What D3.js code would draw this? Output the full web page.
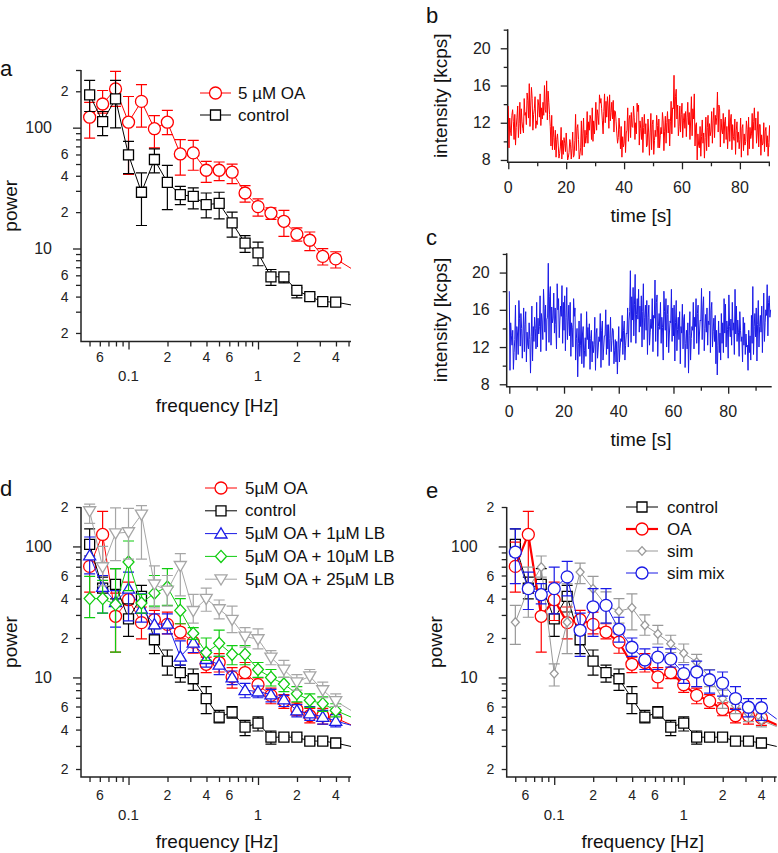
<!DOCTYPE html>
<html><head><meta charset="utf-8">
<script src="https://cdn.jsdelivr.net/npm/d3@7"></script>
<style>
body{margin:0;background:#fff}
svg{display:block;font-family:"Liberation Sans",Arial,Helvetica,sans-serif}
</style></head>
<body><svg id="fig" width="778" height="853"></svg>
<script>
// ---------------- DATA ----------------
// frequencies of the power spectra (Hz); last one lies beyond the axis (line runs to the edge)
const freqHz = [0.0501,0.0631,0.0794,0.1,0.1259,0.1585,0.1995,0.2512,0.3162,0.3981,0.5012,0.631,0.7943,1,1.2589,1.5849,1.9953,2.5119,3.1623,3.9811,6.3096];

// panel a
const aOA     = [122,157,209,111,165,98,111,60.6,61.8,44.4,44.4,42.8,28.8,22.2,19.6,16.8,13.1,11.7,8.6,8.2,6.05];
const aOALo   = [82,132,150,41,101,68,87.5,40.4,44.4,35.3,36.5,34.4,24.2,18.5,17.4,12.6,11.5,9.6,7.3,6.9];
const aOAHi   = [162,203,292,181,227,126,139,79.6,78.5,52.7,52,50,33.2,25.7,21.7,20.7,14.8,13.7,9.96,9.4];
const aCtrl   = [187,112,173,59.5,29.2,54.5,35.3,27.9,27,23.1,23.6,16.3,11.1,9.2,5.83,5.83,4.5,4.0,3.63,3.6,3.29];
const aCtrlLo = [136,86,99.4,41.7,15.5,42.3,21,23.1,21.3,17.9,17.6,12.4,9.3,7.2,4.95,5.2,3.9,3.7,3.45,3.45];
const aCtrlHi = [246,136,246,77,42.3,66.7,48.8,32.7,31.8,28.8,29.2,20,12.8,11.3,6.7,6.1,4.73,4.2,3.8,3.75];

// panels d and e (shared OA and control)
const oa      = [70.4,123.5,29.3,39.2,26.2,27.6,25.4,22.2,18.6,12.6,13,10.1,10.9,8.8,7.3,6.6,5.7,5.1,5.1,4.9,4.0];
const oaLo    = [44.8,44.8,15.6,27.2,19.7,24.2,21.5,19.7,15.3,10.9,11,8.3,9.8,7.7,6.3,5.8,5.1,4.5,4.4,4.3];
const oaHi    = [108,185,44,53.4,34.5,32.5,31.5,25.7,21.5,14.3,15.2,11.9,13,9.9,8.3,7.4,6.4,5.8,5.8,5.6];
const ctrl    = [103.6,48,51.3,28,41.5,19.4,13.3,10.9,9.77,6.9,4.98,5.43,4.18,4.48,3.5,3.5,3.5,3.27,3.27,3.16,2.85];
const ctrlLo  = [84.5,39.8,39.8,20.6,31.6,15.2,10.4,9.2,7.96,5.3,4.5,4.9,3.6,3.9,3.1,3.35,3.35,3.1,3.05,3.1];
const ctrlHi  = [136,58.3,67.6,36.5,50.4,23.6,16.2,12.4,11.6,8.5,5.6,6.0,4.7,5.0,3.9,3.6,3.6,3.45,3.45,3.25];
const lb1     = [85.3,49,37.6,47.6,33.4,25.4,25.7,14.4,18.4,13.8,12.5,10,8,7.8,7.4,6.8,5.6,5.3,5.0,4.65,4.1];
const lb1Lo   = [61.7,31,24.2,27,26.4,21.5,21.5,12.4,15.5,12,10.5,8.8,7,7,6.5,6,5,4.7,4.4,4.2];
const lb1Hi   = [118,60,46,63.6,43.5,30.6,30.6,19,21.5,16,14.5,11.2,9,8.6,8.1,7.3,6.2,6,5.6,5.2];
const lb10    = [40,40,36,76,37,44,49,32.5,21.7,15.5,18.2,15,15,11.5,10,8.9,7.5,6.7,6.3,5.6,4.6];
const lb10Lo  = [28.6,31,15.6,46,31,35,35.5,25.7,19.5,13.5,14.5,12.5,12.5,10,8.6,7.8,6.5,5.9,5.5,5];
const lb10Hi  = [59,55,67.6,110,43,60,67.6,40,24,20,23,17.5,17.5,13,11.5,10,8.5,7.5,7.1,6.3];
const lb25    = [186,69.5,126,128.5,175,51.3,46,71,32.2,39.8,33.2,27.6,20.5,19.6,14.2,11.5,9.2,10.2,8.0,6.6,5.0];
const lb25Lo  = [150,50,78,80,80,34,35,42,26,32,28,22,17,16.5,12.5,10,8,9,7,6];
const lb25Hi  = [210,100,197,195,205,71,60,88,43,48,39,35,24,23.5,16,13.5,10.5,11.5,9.2,7.5];
const sim     = [26.4,47.6,69.5,10.7,26.4,63.7,47.5,35.5,32,34,25,21.5,18.1,15.3,13.1,10,6.9,6.1,5.3,4.7,3.9];
const simLo   = [17.9,28.8,58.3,8.6,15.2,52,34,26,26,23.1,21,18,15.5,13,11,8.5,5.8,5.3,4.6,4.2];
const simHi   = [35.5,69.5,84.5,12.7,51.9,74.6,59,45,40,43.5,30,25,21,18,15,11.5,8,7,6,5.3];
const simMix  = [90.6,47.6,42.8,47.6,58.6,22.9,34.6,35.5,23.3,17,13.6,14.3,13.8,10.7,11,9.6,9.05,6.9,5.92,5.87,4.2];
const simMixLo= [52,33,36.5,30.6,42,14.5,20.6,26,18.6,14.5,11.5,11.5,12,9,8.5,7.6,7.2,5.7,5,4.7];
const simMixHi= [136,63.6,52,69.5,77,31,47.6,47.6,28.8,20,16.5,17,16.5,12.5,13.3,11.4,11,8.5,6.9,6.9];

// intensity traces (kcps), sampled every 0.25 s
const traceStep = 0.25;
const traceOA = [
13.8,9.3,12.5,11.2, 10.6,12.8,13.4,12.1, 10.2,12.9,9.6,11.5, 12.6,13.8,10.4,11.9, 14.2,10.8,13.5,12.1,
11.4,10.9,14.6,12.8, 13.1,11.8,15.2,14.4, 12.5,16.2,11.6,13.9, 15.8,14.6,11.2,12.9, 13.5,14.8,11.4,12.2,
11.8,14.5,13.9,12.6, 15.1,11.7,13.6,12.4, 14.2,12.8,16.0,13.4, 13.1,16.5,12.3,15.4, 14.2,12.9,11.6,9.5,
12.8,9.1,11.6,10.4, 9.1,11.2,8.3,10.2, 10.8,9.6,8.2,8.7, 9.4,11.5,8.1,10.1, 8.6,10.4,9.8,8.9,
10.9,9.5,8.0,8.3, 8.8,10.2,9.7,8.1, 9.2,11.0,8.3,8.5, 10.1,12.9,9.0,11.4, 11.8,10.2,8.1,8.6,
9.3,12.2,8.5,10.8, 12.5,9.4,11.2,9.8, 10.6,13.2,9.8,12.1, 11.2,12.8,12.4,10.2, 13.6,10.0,12.2,10.8,
12.1,14.2,11.2,13.4, 12.8,11.8,15.0,14.1, 14.6,13.5,12.2,10.8, 13.2,15.1,12.0,14.3, 12.6,14.8,13.8,11.4,
15.0,12.2,13.1,14.2, 12.4,14.4,11.0,13.3, 13.2,12.1,10.8,9.8, 10.4,12.5,11.3,9.2, 11.6,8.3,10.5,9.4,
9.8,12.2,8.8,10.9, 11.2,13.6,10.0,12.4, 12.8,10.4,13.1,11.6, 11.5,13.8,12.6,10.2, 12.0,10.8,14.1,13.2,
13.9,9.6,12.2,11.4, 10.2,12.6,8.8,11.5, 12.9,10.8,11.9,9.4, 9.6,12.4,10.9,8.5, 10.9,13.0,9.1,11.8,
12.3,8.6,10.1,11.2, 10.5,12.8,11.7,9.3, 12.4,9.3,10.6,11.5, 10.8,13.1,12.2,9.0, 11.1,12.7,9.8,12.0,
13.2,10.9,12.4,9.5, 12.1,14.3,10.8,13.6, 13.5,17.1,11.5,14.8, 15.6,12.4,13.9,10.6, 11.6,13.8,11.0,12.9,
14.1,10.4,12.2,13.0, 11.4,13.2,10.5,12.6, 14.2,11.8,13.1,10.2, 12.3,14.8,10.6,13.5, 12.4,15.1,9.5,11.8,
12.0,8.0,10.8,9.6, 9.3,11.6,8.4,10.5, 12.3,9.8,10.9,8.2, 10.4,12.6,9.0,11.5, 12.8,9.4,11.9,10.6,
11.1,13.2,9.8,12.2, 13.6,10.4,12.8,11.8, 12.6,15.3,11.0,13.9, 13.5,9.4,12.4,11.2, 10.8,13.0,9.8,12.1,
12.6,10.2,11.6,9.2, 11.0,13.4,10.0,12.3, 12.9,9.1,11.8,10.5, 10.1,12.4,8.6,11.2, 12.1,9.9,11.0,9.2,
10.2,12.5,8.3,11.4, 11.8,9.0,10.8,9.6, 10.0,12.2,11.3,8.5, 12.6,9.2,11.5,10.3, 10.8,13.0,9.2,12.1,
13.6,11.2,12.5,9.8, 10.9,13.2,9.4,11.8, 11.8,8.5,10.7,9.6, 9.8,12.0,8.9,11.1, 11.5,9.4,10.6,8.4,
9.9,11.7,9.4,10.8, 9.8];
const traceCtrl = [
18.0,9.5,14.6,13.2, 12.2,13.8,9.6,11.4, 12.8,16.5,10.6,14.2, 13.4,11.2,17.0,15.1, 12.1,15.6,14.0,10.8,
13.5,16.2,11.5,14.4, 15.8,10.4,13.6,12.2, 11.8,14.6,12.8,9.2, 13.1,16.4,10.5,14.2, 12.6,15.2,14.0,11.8,
16.8,12.0,15.1,13.4, 14.2,17.5,11.5,15.6, 14.8,12.8,18.2,16.1, 13.6,16.5,11.6,15.0, 15.2,21.0,12.5,17.4,
18.5,12.2,16.3,14.6, 15.1,17.8,13.5,16.2, 14.4,11.8,18.8,16.0, 17.2,13.0,14.9,16.4, 15.3,18.6,12.4,16.8,
13.8,17.5,11.6,15.2, 18.4,12.8,14.7,16.5, 13.2,16.8,11.0,14.6, 14.1,12.0,17.2,15.3, 16.2,10.6,12.9,14.0,
8.8,12.4,14.8,11.0, 12.2,15.6,10.2,13.4, 14.2,9.8,11.6,13.0, 11.0,15.8,12.8,14.1, 11.8,14.5,9.6,12.9,
13.8,10.4,12.6,11.4, 12.3,15.2,9.5,13.4, 14.0,10.8,11.9,13.1, 12.6,15.6,9.8,13.8, 14.8,10.6,12.0,13.2,
13.2,16.0,11.2,14.4, 11.8,14.4,10.0,12.9, 15.2,11.5,12.7,14.0, 13.8,10.2,11.6,12.8, 10.4,12.6,9.1,11.8,
14.2,10.4,11.8,12.9, 12.6,15.4,11.2,13.8, 14.8,10.6,12.2,13.5, 13.4,16.2,12.0,14.8, 15.8,20.2,12.5,17.4,
14.9,18.4,13.2,16.6, 19.8,12.4,15.5,17.2, 15.0,18.2,13.6,16.4, 14.2,17.5,12.0,15.8, 18.8,12.8,15.2,16.5,
13.8,17.0,11.2,15.2, 16.5,12.2,13.6,15.0, 14.0,17.2,11.5,15.4, 15.1,19.2,12.6,16.8, 17.6,11.0,14.2,15.6,
13.9,16.8,12.4,15.2, 14.1,10.6,18.0,15.8, 13.8,17.2,12.0,15.5, 16.5,11.4,13.4,14.8, 14.6,18.2,12.6,16.2,
13.2,16.5,10.5,14.6, 17.0,11.6,13.9,15.2, 12.8,15.8,10.2,14.2, 13.5,16.6,11.8,15.0, 15.5,9.8,12.4,13.8,
11.8,14.6,9.2,13.2, 15.8,10.6,12.9,14.2, 13.8,16.8,11.8,15.2, 14.2,17.2,12.4,15.6, 16.5,11.2,13.4,14.9,
14.8,18.3,12.8,16.2, 17.4,11.6,14.0,15.5, 13.6,16.2,12.2,14.8, 14.4,18.0,11.4,15.9, 16.8,12.0,13.7,15.1,
12.6,15.4,10.2,13.8, 9.0,12.2,14.8,11.4, 13.5,10.6,15.6,12.4, 14.6,11.4,17.2,13.5, 16.6,12.0,14.8,13.9,
10.8,17.6,14.2,13.1, 15.0,12.2,16.8,13.8, 14.6,11.2,18.2,13.4, 16.4,12.6,14.9,13.6, 11.0,15.8,13.8,12.6,
13.1,10.4,15.2,12.2, 14.6,11.2,13.4,12.0, 12.2,9.5,13.8,11.4, 13.2,10.6,15.4,12.4, 18.5,11.2,14.2,15.6,
13.1,16.2,10.5,14.4, 17.0,12.0,14.2,15.4, 13.6,16.4,11.4,14.8, 17.8,12.6,14.6,16.0, 15.4,18.7,13.2,16.8,
17.5,15.2,16.0];

// axis tick values for the intensity panels
const intensityTicks = [8,12,16,20];
const intensityMinor = [10,14,18,22];
const timeTicks = [0,20,40,60,80];
const timeMinor = [10,30,50,70,90];

// ---------------- DRAWING ----------------
const svg = d3.select('#fig');
const RED = '#ff0000', BLACK = '#000000', BLUE = '#1a1ae6', GREEN = '#10cc10', GRAY = '#a6a6a6', GRAY2 = '#999999';
const AXC = '#222';

function markerPath(shape, s) {
  const h = s / 2;
  switch (shape) {
    case 'circle': return d3.arc()({innerRadius:0, outerRadius:h, startAngle:0, endAngle:2*Math.PI});
    case 'square': return `M${-h},${-h}H${h}V${h}H${-h}Z`;
    case 'triUp': return `M0,${-h*1.05}L${h*1.1},${h*0.8}L${-h*1.1},${h*0.8}Z`;
    case 'triDown': return `M0,${h*1.05}L${h*1.1},${-h*0.8}L${-h*1.1},${-h*0.8}Z`;
    case 'diamond': return `M0,${-h*1.1}L${h},0L0,${h*1.1}L${-h},0Z`;
  }
}

function logTicks(dom) {
  const out = [];
  for (let e = -3; e <= 3; e++) for (let m = 1; m <= 9; m++) {
    const v = m * Math.pow(10, e);
    if (v >= dom[0] * 0.999 && v <= dom[1] * 1.001) out.push({v, m, e});
  }
  return out;
}
function fmtMajor(v) { return v >= 1 ? String(Math.round(v)) : String(+v.toPrecision(1)); }

function logPanel(P) {
  const g = svg.append('g');
  const x = d3.scaleLog().domain(P.xDom).range([P.left, P.right]);
  const y = d3.scaleLog().domain(P.yDom).range([P.bottom, P.top]);

  const yt = logTicks(P.yDom);
  const yMaj = yt.filter(t => t.m === 1).map(t => t.v), yMin = yt.filter(t => t.m !== 1).map(t => t.v);
  const ya1 = g.append('g').attr('transform', `translate(${P.left},0)`).call(d3.axisLeft(y).tickValues(yMaj).tickSize(8).tickFormat(''));
  const ya2 = g.append('g').attr('transform', `translate(${P.left},0)`).call(d3.axisLeft(y).tickValues(yMin).tickSize(5).tickFormat(''));
  const xt = logTicks(P.xDom);
  const xMaj = xt.filter(t => t.m === 1).map(t => t.v), xMin = xt.filter(t => t.m !== 1).map(t => t.v);
  const xa1 = g.append('g').attr('transform', `translate(0,${P.bottom})`).call(d3.axisBottom(x).tickValues(xMaj).tickSize(8).tickFormat(''));
  const xa2 = g.append('g').attr('transform', `translate(0,${P.bottom})`).call(d3.axisBottom(x).tickValues(xMin).tickSize(5).tickFormat(''));
  [ya1, ya2, xa1, xa2].forEach(a => { a.select('.domain').remove(); a.selectAll('line').attr('stroke', AXC).attr('stroke-width', 1.3); });
  g.append('path').attr('d', `M${P.left},${P.top}V${P.bottom}H${P.right}`).attr('fill', 'none').attr('stroke', AXC).attr('stroke-width', 1.5);

  yt.forEach(t => {
    if (t.m === 1) g.append('text').attr('x', P.left - 29).attr('y', y(t.v)).attr('text-anchor', 'end')
      .attr('dominant-baseline', 'central').attr('font-size', 16).attr('fill', AXC).text(fmtMajor(t.v));
    else if (t.m === 2 || t.m === 4 || t.m === 6) g.append('text').attr('x', P.left - 12.5).attr('y', y(t.v)).attr('text-anchor', 'end')
      .attr('dominant-baseline', 'central').attr('font-size', 14).attr('fill', AXC).text(t.m);
  });
  xt.forEach(t => {
    if (t.m === 1) g.append('text').attr('x', x(t.v)).attr('y', P.bottom + P.majOff).attr('text-anchor', 'middle')
      .attr('dominant-baseline', 'central').attr('font-size', 15).attr('fill', AXC).text(fmtMajor(t.v));
    else if (t.m === 2 || t.m === 4 || t.m === 6) g.append('text').attr('x', x(t.v)).attr('y', P.bottom + P.minOff).attr('text-anchor', 'middle')
      .attr('dominant-baseline', 'central').attr('font-size', 14).attr('fill', AXC).text(t.m);
  });
  g.append('text').attr('x', (P.left + P.right) / 2 + 1).attr('y', P.bottom + 64).attr('text-anchor', 'middle')
    .attr('dominant-baseline', 'central').attr('font-size', 19).attr('fill', '#111').text('frequency [Hz]');
  g.append('text').attr('transform', `translate(${P.left - 71},${(P.top + P.bottom) / 2}) rotate(-90)`).attr('text-anchor', 'middle')
    .attr('dominant-baseline', 'central').attr('font-size', 19).attr('fill', '#111').text('power');
  g.append('text').attr('x', P.letterX).attr('y', P.letterY).attr('dominant-baseline', 'central')
    .attr('font-size', 22).attr('fill', '#111').text(P.letter);

  const cid = 'clip' + P.letter;
  svg.append('clipPath').attr('id', cid).append('rect').attr('x', P.left).attr('y', P.top - 10)
    .attr('width', P.right - P.left).attr('height', P.bottom - P.top + 10);
  const plot = g.append('g').attr('clip-path', `url(#${cid})`);
  const line = d3.line().x((d, i) => x(freqHz[i])).y(d => y(d));

  P.series.forEach(s => {
    const sg = plot.append('g');
    sg.append('path').attr('d', line(s.v)).attr('fill', 'none').attr('stroke', s.color).attr('stroke-width', s.lw || 1);
    s.lo.forEach((lo, i) => {
      const hi = s.hi[i], cx = x(freqHz[i]);
      const cw = 5.5;
      sg.append('path').attr('d', `M${cx},${y(lo)}V${y(hi)}M${cx - cw},${y(lo)}H${cx + cw}M${cx - cw},${y(hi)}H${cx + cw}`)
        .attr('fill', 'none').attr('stroke', s.color).attr('stroke-width', 1.2);
    });
    s.v.forEach((v, i) => {
      sg.append('path').attr('d', markerPath(s.shape, s.size)).attr('transform', `translate(${x(freqHz[i])},${y(v)})`)
        .attr('fill', '#fff').attr('stroke', s.color).attr('stroke-width', 1.3);
    });
  });

  const L = P.legend;
  P.series.forEach((s, k) => {
    const ly = L.y + k * L.dy;
    g.append('line').attr('x1', L.x0).attr('x2', L.x1).attr('y1', ly).attr('y2', ly).attr('stroke', s.color).attr('stroke-width', s.lw || 1);
    g.append('path').attr('d', markerPath(s.shape, s.size)).attr('transform', `translate(${(L.x0 + L.x1) / 2},${ly})`)
      .attr('fill', '#fff').attr('stroke', s.color).attr('stroke-width', 1.3);
    g.append('text').attr('x', L.tx).attr('y', ly).attr('dominant-baseline', 'central').attr('font-size', 17)
      .attr('fill', '#111').text(s.name);
  });
}

function tracePanel(P) {
  const g = svg.append('g');
  const x = d3.scaleLinear().domain(P.xDom).range([P.left, P.right]);
  const y = d3.scaleLinear().domain(P.yDom).range([P.bottom, P.top]);
  const ya1 = g.append('g').attr('transform', `translate(${P.left},0)`).call(d3.axisLeft(y).tickValues(intensityTicks).tickSize(7).tickFormat(''));
  const ya2 = g.append('g').attr('transform', `translate(${P.left},0)`).call(d3.axisLeft(y).tickValues(intensityMinor).tickSize(4).tickFormat(''));
  const xa1 = g.append('g').attr('transform', `translate(0,${P.bottom})`).call(d3.axisBottom(x).tickValues(timeTicks).tickSize(7).tickFormat(''));
  const xa2 = g.append('g').attr('transform', `translate(0,${P.bottom})`).call(d3.axisBottom(x).tickValues(timeMinor.filter(t => t <= P.xDom[1])).tickSize(4).tickFormat(''));
  [ya1, ya2, xa1, xa2].forEach(a => { a.select('.domain').remove(); a.selectAll('line').attr('stroke', AXC).attr('stroke-width', 1.3); });
  g.append('path').attr('d', `M${P.left},${P.top}V${P.bottom}H${P.right}`).attr('fill', 'none').attr('stroke', AXC).attr('stroke-width', 1.5);
  intensityTicks.forEach(t => g.append('text').attr('x', P.left - 17).attr('y', y(t)).attr('text-anchor', 'end')
    .attr('dominant-baseline', 'central').attr('font-size', 16).attr('fill', AXC).text(t));
  timeTicks.forEach(t => g.append('text').attr('x', x(t)).attr('y', P.bottom + 25).attr('text-anchor', 'middle')
    .attr('dominant-baseline', 'central').attr('font-size', 16).attr('fill', AXC).text(t));
  g.append('text').attr('x', 641).attr('y', P.bottom + 53).attr('text-anchor', 'middle').attr('dominant-baseline', 'central')
    .attr('font-size', 19).attr('fill', '#111').text('time [s]');
  g.append('text').attr('transform', `translate(440,${(P.top + P.bottom) / 2}) rotate(-90)`).attr('text-anchor', 'middle')
    .attr('dominant-baseline', 'central').attr('font-size', 19).attr('fill', '#111').text('intensity [kcps]');
  g.append('text').attr('x', 426).attr('y', P.letterY).attr('dominant-baseline', 'central')
    .attr('font-size', 22).attr('fill', '#111').text(P.letter);
  const cid = 'clip' + P.letter;
  svg.append('clipPath').attr('id', cid).append('rect').attr('x', P.left).attr('y', P.top).attr('width', P.right - P.left).attr('height', P.bottom - P.top);
  g.append('path').attr('clip-path', `url(#${cid})`)
    .attr('d', d3.line().x((d, i) => x(i * traceStep)).y(d => y(d))(P.data))
    .attr('fill', 'none').attr('stroke', P.color).attr('stroke-width', 1);
}

const xDomF = [0.04296, 5.225];
logPanel({letter:'a', letterX:0, letterY:68, left:81, right:351, top:70, bottom:341.5, xDom:xDomF, yDom:[1.70,300],
  minOff:15.5, majOff:33.5,
  legend:{x0:200, x1:231, tx:238, y:93, dy:22},
  series:[
    {name:'5 µM OA', v:aOA, lo:aOALo, hi:aOAHi, color:RED, shape:'circle', size:12},
    {name:'control', v:aCtrl, lo:aCtrlLo, hi:aCtrlHi, color:BLACK, shape:'square', size:10}
  ]});

logPanel({letter:'d', letterX:0, letterY:488, left:81, right:351, top:507, bottom:777, xDom:xDomF, yDom:[1.738,200],
  minOff:18, majOff:37,
  legend:{x0:205, x1:237, tx:245, y:488, dy:22.8},
  series:[
    {name:'5µM OA', v:oa, lo:oaLo, hi:oaHi, color:RED, shape:'circle', size:12},
    {name:'control', v:ctrl, lo:ctrlLo, hi:ctrlHi, color:BLACK, shape:'square', size:10},
    {name:'5µM OA + 1µM LB', v:lb1, lo:lb1Lo, hi:lb1Hi, color:BLUE, shape:'triUp', size:11},
    {name:'5µM OA + 10µM LB', v:lb10, lo:lb10Lo, hi:lb10Hi, color:GREEN, shape:'diamond', size:11},
    {name:'5µM OA + 25µM LB', v:lb25, lo:lb25Lo, hi:lb25Hi, color:GRAY, shape:'triDown', size:11}
  ]});

logPanel({letter:'e', letterX:426, letterY:490, left:506.7, right:776.7, top:507, bottom:777, xDom:xDomF, yDom:[1.738,200],
  minOff:18, majOff:37,
  legend:{x0:626, x1:658, tx:667, y:507, dy:22},
  series:[
    {name:'control', v:ctrl, lo:ctrlLo, hi:ctrlHi, color:BLACK, shape:'square', size:10},
    {name:'OA', v:oa, lo:oaLo, hi:oaHi, color:RED, shape:'circle', size:12, lw:2.2},
    {name:'sim', v:sim, lo:simLo, hi:simHi, color:GRAY2, shape:'diamond', size:8},
    {name:'sim mix', v:simMix, lo:simMixLo, hi:simMixHi, color:BLUE, shape:'circle', size:12}
  ]});

tracePanel({letter:'b', letterY:15, left:507.7, right:770, top:29.3, bottom:162.3, xDom:[-0.2,90.4], yDom:[7.75,22.04], data:traceOA, color:RED});
tracePanel({letter:'c', letterY:237, left:506.7, right:771.7, top:253.3, bottom:386.7, xDom:[-0.95,95.9], yDom:[7.74,22.07], data:traceCtrl, color:BLUE});
</script></body></html>
